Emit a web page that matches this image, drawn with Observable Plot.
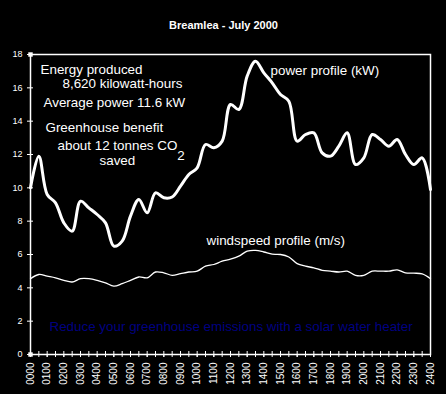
<!DOCTYPE html>
<html><head><meta charset="utf-8">
<script src="https://cdn.jsdelivr.net/npm/d3@7"></script>
<script src="https://cdn.jsdelivr.net/npm/@observablehq/plot@0.6"></script>
<style>
html,body{margin:0;padding:0;background:#000;}
svg{display:block}
</style></head><body>
<div id="chart"></div>
<script>
const title = "Breamlea - July 2000";
const timeLabels = ["0000","0100","0200","0300","0400","0500","0600","0700","0800","0900","1000","1100","1200","1300","1400","1500","1600","1700","1800","1900","2000","2100","2200","2300","2400"];
const yTicks = [0,2,4,6,8,10,12,14,16,18];
// power (kW) at half-hour steps, 00:00 .. 24:00
const power = [10.0,11.9,9.6,9.1,7.9,7.4,9.2,8.8,8.4,7.9,6.5,6.8,8.3,9.3,8.5,9.7,9.4,9.45,10.1,10.8,11.2,12.6,12.4,12.8,15.0,14.7,16.7,17.6,16.9,16.3,15.6,15.2,12.8,13.2,13.3,12.1,11.9,12.5,13.3,11.4,11.8,13.2,12.9,12.5,12.9,12.0,11.4,11.8,9.9];
// windspeed (m/s) at half-hour steps
const wind = [4.55,4.8,4.7,4.6,4.45,4.35,4.55,4.55,4.45,4.3,4.1,4.25,4.45,4.65,4.6,4.95,4.9,4.75,4.85,4.95,5.0,5.3,5.4,5.6,5.72,5.9,6.2,6.25,6.15,6.02,6.0,5.85,5.45,5.3,5.2,5.05,5.0,4.95,5.0,4.75,4.75,5.0,5.0,5.0,5.08,4.9,4.88,4.84,4.55];
const notes = ["Energy produced","8,620 kilowatt-hours","Average power 11.6 kW","Greenhouse benefit","about 12 tonnes CO","2","saved"];
const powerLabel = "power profile (kW)";
const windLabel = "windspeed profile (m/s)";
const slogan = "Reduce your greenhouse emissions with a solar water heater";

const hours = power.map((_, i) => i / 2);
const hourTicks = timeLabels.map((_, i) => i);
const rows = hours.map((h, i) => ({h, power: power[i], wind: wind[i]}));

const font = "'Liberation Sans', Arial, sans-serif";
const note = (t, x, y, extra = {}) => Plot.text([t], {x: () => x, y: () => y, text: d => d, textAnchor: "start", fill: "#fff", fontSize: 13.4, ...extra});

const chart = Plot.plot({
  width: 446, height: 394,
  marginLeft: 30, marginRight: 16, marginTop: 54, marginBottom: 40,
  style: {background: "#000", color: "#fff", fontFamily: font, fontSize: "9px"},
  x: {domain: [0, 24], label: null},
  y: {domain: [0, 18], label: null},
  marks: [
    Plot.frame({stroke: "#fff", strokeWidth: 1.5}),
    Plot.axisY({ticks: yTicks, tickSize: 3, tickPadding: 5, label: null, stroke: "#fff"}),
    Plot.axisY({ticks: yTicks, tickSize: 3, dx: 3, tickFormat: () => "", label: null, stroke: "#fff"}),
    Plot.axisX({ticks: hourTicks, tickSize: 3, tickPadding: 5, tickRotate: -90, tickFormat: d => timeLabels[d], label: null, stroke: "#fff", fontSize: 10}),
    Plot.axisX({ticks: hours, tickSize: 3, tickFormat: () => "", label: null, stroke: "#fff"}),
    Plot.axisX({ticks: hours, tickSize: 3, dy: -3, tickFormat: () => "", label: null, stroke: "#fff"}),
    Plot.dot([0, 18], {x: () => 0, y: d => d, symbol: "square", r: 2.5, fill: "#fff"}),
    Plot.text([title], {frameAnchor: "top", dx: -7, dy: -33, fontWeight: "bold", fontSize: 11, fill: "#fff"}),
    Plot.line(rows, {x: "h", y: "wind", stroke: "#fff", strokeWidth: 1.3, curve: "catmull-rom"}),
    Plot.line(rows, {x: "h", y: "power", stroke: "#fff", strokeWidth: 3, curve: "catmull-rom"}),
    note(notes[0], 0.6, 17.1),
    note(notes[1], 1.92, 16.26),
    note(notes[2], 0.78, 15.12),
    note(notes[3], 0.9, 13.6),
    note(notes[4], 1.62, 12.54),
    note(notes[5], 8.8, 11.9),
    note(notes[6], 4.14, 11.64),
    note(powerLabel, 14.4, 17.04),
    note(windLabel, 10.56, 6.8),
    note(slogan, 1.14, 1.64, {fill: "#000080"})
  ]
});
document.getElementById("chart").appendChild(chart);
</script>
</body></html>
